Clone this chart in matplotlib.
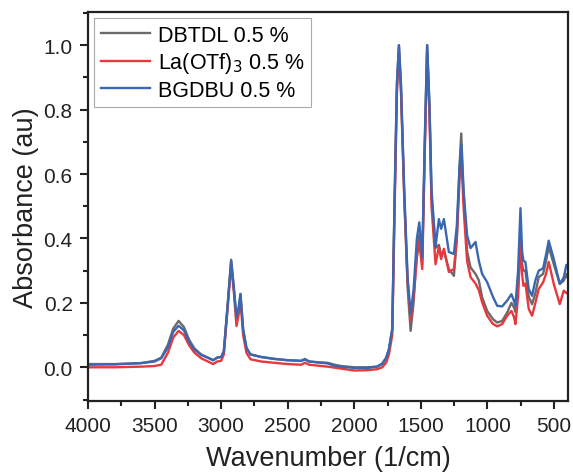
import numpy as np
import matplotlib
matplotlib.use('Agg')
import matplotlib.pyplot as plt
from matplotlib.ticker import MultipleLocator

plt.rcParams['font.family'] = ['Liberation Sans', 'DejaVu Sans']

# FTIR spectra, normalised absorbance
wavenumber = [4000, 3800, 3600, 3500, 3450, 3400, 3360, 3320, 3280, 3240, 3200, 3150,
              3100, 3060, 3030, 3000, 2980, 2950, 2925, 2905, 2885, 2870, 2855, 2835,
              2810, 2780, 2700, 2600, 2500, 2400, 2370, 2340, 2250, 2200, 2150, 2100,
              2000, 1900, 1830, 1790, 1760, 1740, 1715, 1697, 1680, 1665, 1650, 1625,
              1600, 1577, 1555, 1530, 1512, 1490, 1470, 1453, 1435, 1420, 1390, 1365,
              1348, 1327, 1290, 1252, 1230, 1210, 1197, 1180, 1153, 1127, 1090, 1065,
              1040, 1002, 960, 927, 890, 852, 820, 800, 790, 770, 752, 740, 730, 715,
              690, 665, 640, 615, 582, 560, 540, 502, 457, 427, 407, 400]

dbtdl = [0.010, 0.010, 0.013, 0.020, 0.030, 0.070, 0.120, 0.144, 0.125, 0.085, 0.058, 0.040,
         0.030, 0.022, 0.030, 0.032, 0.050, 0.200, 0.334, 0.250, 0.150, 0.180, 0.227, 0.120,
         0.060, 0.040, 0.032, 0.026, 0.022, 0.020, 0.026, 0.018, 0.015, 0.014, 0.008, 0.004,
         0.000, 0.000, 0.002, 0.012, 0.030, 0.056, 0.118, 0.530, 0.880, 1.000, 0.880, 0.530,
         0.250, 0.113, 0.200, 0.360, 0.410, 0.320, 0.700, 1.000, 0.800, 0.530, 0.370, 0.380,
         0.350, 0.360, 0.305, 0.284, 0.400, 0.620, 0.726, 0.550, 0.360, 0.310, 0.290, 0.270,
         0.217, 0.175, 0.150, 0.139, 0.144, 0.170, 0.200, 0.185, 0.172, 0.250, 0.420, 0.320,
         0.300, 0.300, 0.218, 0.196, 0.230, 0.280, 0.290, 0.330, 0.374, 0.320, 0.259, 0.269,
         0.290, 0.280]

la_otf3 = [0.000, 0.000, 0.002, 0.004, 0.008, 0.045, 0.092, 0.113, 0.100, 0.068, 0.045, 0.028,
           0.018, 0.010, 0.018, 0.020, 0.040, 0.190, 0.320, 0.235, 0.128, 0.160, 0.210, 0.100,
           0.045, 0.025, 0.018, 0.014, 0.010, 0.008, 0.014, 0.008, 0.004, 0.002, -0.001, -0.004,
           -0.010, -0.009, -0.006, 0.000, 0.015, 0.040, 0.100, 0.500, 0.850, 0.980, 0.860, 0.530,
           0.270, 0.145, 0.220, 0.340, 0.390, 0.305, 0.680, 0.980, 0.780, 0.500, 0.320, 0.374,
           0.336, 0.368, 0.296, 0.305, 0.400, 0.580, 0.670, 0.500, 0.330, 0.280, 0.260, 0.240,
           0.202, 0.160, 0.135, 0.127, 0.134, 0.160, 0.175, 0.155, 0.134, 0.220, 0.388, 0.290,
           0.253, 0.260, 0.181, 0.160, 0.200, 0.243, 0.264, 0.290, 0.327, 0.259, 0.196, 0.238,
           0.230, 0.232]

bgdbu = [0.008, 0.009, 0.013, 0.018, 0.028, 0.062, 0.110, 0.129, 0.115, 0.078, 0.055, 0.038,
         0.030, 0.022, 0.030, 0.032, 0.050, 0.200, 0.330, 0.245, 0.155, 0.180, 0.228, 0.115,
         0.060, 0.040, 0.032, 0.026, 0.022, 0.020, 0.024, 0.018, 0.014, 0.012, 0.005, 0.002,
         -0.002, -0.002, 0.002, 0.010, 0.030, 0.056, 0.120, 0.530, 0.880, 1.000, 0.880, 0.550,
         0.280, 0.165, 0.240, 0.400, 0.450, 0.340, 0.720, 1.000, 0.810, 0.550, 0.374, 0.460,
         0.430, 0.460, 0.358, 0.352, 0.440, 0.620, 0.690, 0.550, 0.410, 0.370, 0.389, 0.331,
         0.290, 0.264, 0.220, 0.191, 0.189, 0.207, 0.227, 0.205, 0.191, 0.300, 0.494, 0.360,
         0.331, 0.327, 0.243, 0.222, 0.270, 0.300, 0.307, 0.350, 0.393, 0.336, 0.259, 0.279,
         0.318, 0.315]

labels = ['DBTDL 0.5 %', 'La(OTf)$_3$ 0.5 %', 'BGDBU 0.5 %']
colors = ['#6a6a6a', '#e8383d', '#3a67b1']

fig = plt.figure(figsize=(5.73, 4.77), dpi=100)
ax = fig.add_axes([0.1536, 0.157, 0.8377, 0.8157])

for y, lab, c in zip([dbtdl, la_otf3, bgdbu], labels, colors):
    ax.plot(wavenumber, y, color=c, lw=1.7, label=lab, solid_joinstyle='round')

ax.set_xlim(4000, 395)
ax.set_ylim(-0.105, 1.103)
ax.xaxis.set_major_locator(MultipleLocator(500))
ax.xaxis.set_minor_locator(MultipleLocator(250))
ax.yaxis.set_major_locator(MultipleLocator(0.2))
ax.yaxis.set_minor_locator(MultipleLocator(0.1))
ax.tick_params(which='both', direction='out', width=1.5, labelsize=15, colors='#222222')
ax.tick_params(which='major', length=6, pad=5)
ax.tick_params(which='minor', length=3.5)
for s in ax.spines.values():
    s.set_linewidth(1.6)
    s.set_color('#222222')

ax.set_xlabel('Wavenumber (1/cm)', fontsize=19.5, color='#222222', labelpad=7)
ax.set_ylabel('Absorbance (au)', fontsize=19.5, color='#222222', labelpad=3)

leg = ax.legend(loc='upper left', fontsize=15.5, handlelength=2.3, handletextpad=0.35,
                borderaxespad=0.3, borderpad=0.3, labelspacing=0.2, fancybox=False,
                framealpha=1)
leg.get_frame().set_edgecolor('#aaaaaa')
leg.get_frame().set_linewidth(0.8)

fig.savefig('out.png', dpi=100)
